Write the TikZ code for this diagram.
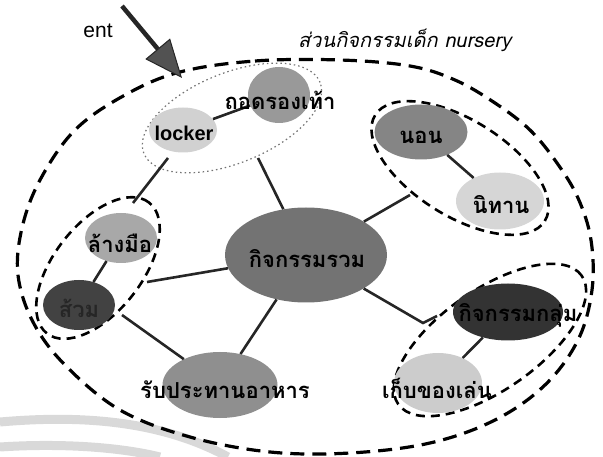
\documentclass[tikz,border=0pt]{standalone}
\usepackage{fontspec}
\setmainfont{Liberation Sans}
\newfontfamily\thaifont[Script=Thai]{Loma}
\usetikzlibrary{shapes.geometric,arrows.meta}
\begin{document}
\begin{tikzpicture}[x=1pt,y=-1pt,
  blob/.style={ellipse, inner sep=0pt, draw=none},
  th/.style={font=\thaifont\bfseries\fontsize{22}{24}\selectfont, text=black, inner sep=0pt},
  grp/.style={ellipse, draw=black, line width=2.6pt, dash pattern=on 9pt off 6pt, inner sep=0pt},
  outerln/.style={line width=3.2pt, dash pattern=on 14pt off 8pt},
  link/.style={line width=2.6pt, draw=black!85},
  band/.style={line width=9pt, draw=black!15}]
\useasboundingbox (0,0) rectangle (603,457);
% scan bands bottom-left
\draw[band] (0,422) .. controls (80,415) and (160,420) .. (228,457);
\draw[band] (0,447) .. controls (60,443) and (120,447) .. (160,457);
% outer boundary
\draw[outerln] plot[smooth cycle, tension=0.6] coordinates {(180,72) (255,61) (340,60) (410,66) (455,80) (495,103) (530,130) (557,163) (578,198) (591,240) (592,290) (578,340) (545,385) (495,420) (430,443) (350,453) (270,452) (190,437) (120,410) (65,365) (33,322) (18,275) (22,228) (40,180) (75,130) (125,95)};
% groups
\node[ellipse, draw=black!55, line width=1.2pt, dash pattern=on 1.5pt off 3pt, minimum width=190, minimum height=90, rotate=22] (gT) at (232,118) {};
\node[grp, minimum width=200, minimum height=96, rotate=-32] (gN) at (460,168) {};
\node[grp, minimum width=166, minimum height=88, rotate=52] (gL) at (98,268) {};
\node[grp, minimum width=224, minimum height=100, rotate=35] (gR) at (490,340) {};
% blobs
\node[blob, fill=black!40, minimum width=62, minimum height=56] (thod) at (279,95) {};
\node[blob, fill=black!18, minimum width=68, minimum height=45] (lock) at (183,130) {};
\node[blob, fill=black!48, minimum width=93, minimum height=55] (non) at (421,132) {};
\node[blob, fill=black!16, minimum width=88, minimum height=57] (nit) at (500,201) {};
\node[blob, fill=black!34, minimum width=72, minimum height=50] (lang) at (121,238) {};
\node[blob, fill=black!74, minimum width=72, minimum height=50] (suam) at (79,305) {};
\node[blob, fill=black!55, minimum width=162, minimum height=95] (cen) at (306,255) {};
\node[blob, fill=black!44, minimum width=115, minimum height=66] (rab) at (220,385) {};
\node[blob, fill=black!80, minimum width=110, minimum height=57] (klum) at (508,312) {};
\node[blob, fill=black!20, minimum width=88, minimum height=60] (keb) at (438,383) {};
% connector ends
\coordinate (eT) at (258,158);
\coordinate (eN) at (410,195);
\coordinate (eL) at (147,282);
\coordinate (eLB) at (122,315);
\coordinate (eR1) at (423,323);
\coordinate (eR2) at (437,316);
\coordinate (eTL) at (168,158);
\coordinate (eLT) at (133,203);
% connectors
\draw[link] (lock) -- (thod);
\draw[link] (cen) -- (eT);
\draw[link] (cen) -- (eN);
\draw[link] (non) -- (nit);
\draw[link] (cen) -- (eL);
\draw[link] (lang) -- (suam);
\draw[link] (eLB) -- (rab);
\draw[link] (cen) -- (rab);
\draw[link] (cen) -- (eR1) -- (eR2);
\draw[link] (klum) -- (keb);
\draw[link] (eTL) -- (eLT);
% texts
\node[th] (tThod) at (280,100) {ถอดรองเท้า};
\node[inner sep=0pt, font=\bfseries\fontsize{20}{22}\selectfont] (tLock) at (184,133) {locker};
\node[th] (tNon) at (421,137) {นอน};
\node[th] (tNit) at (501,205) {นิทาน};
\node[th] (tLang) at (120,243) {ล้างมือ};
\node[th, text=black!85] (tSuam) at (79,308) {ส้วม};
\node[th] (tCen) at (307,259) {กิจกรรมรวม};
\node[th] (tRab) at (225,390) {รับประทานอาหาร};
\node[th] (tKlum) at (518,315) {กิจกรรมกลุ่ม};
\node[th] (tKeb) at (437,388) {เก็บของเล่น};
% entrance
\node[inner sep=0pt, font=\fontsize{21}{23}\selectfont] (ent) at (98,31) {ent};
\coordinate (aS) at (122,6);
\coordinate (aE) at (182,78);
\draw[line width=4.5pt, black!85, -{Triangle[length=38pt,width=32pt,line width=1pt,fill=black!68]}] (aS) -- (aE);
% title
\node[inner sep=0pt, anchor=west, font=\thaifont\itshape\fontsize{20}{22}\selectfont] (title) at (298,40) {ส่วนกิจกรรมเด็ก nursery};
\end{tikzpicture}
\end{document}
